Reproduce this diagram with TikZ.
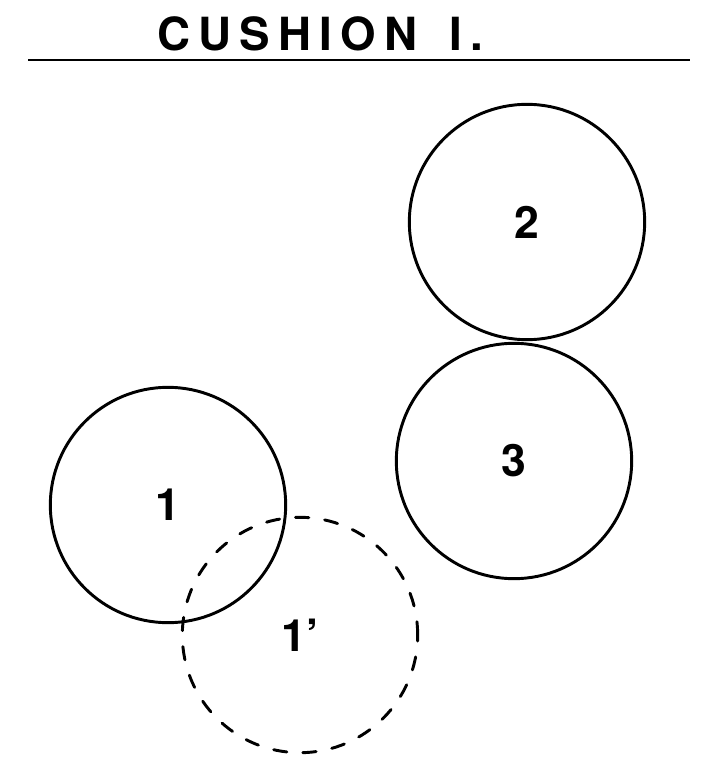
\documentclass[tikz,border=0pt]{standalone}
\usepackage{fontspec}
\setmainfont{TeX Gyre Heros}
\newfontfamily\titlefont[LetterSpace=18]{TeX Gyre Heros}
\usetikzlibrary{positioning}

\begin{document}
\begin{tikzpicture}[x=0.03cm, y=-0.03cm,
    ball/.style={circle, draw, line width=2.5pt, minimum size=7.06cm, inner sep=0pt,
                 font=\fontsize{38}{38}\selectfont\bfseries},
    ghost/.style={ball, dash pattern=on 0.4cm off 0.48cm, line cap=round}]
  \useasboundingbox (0,0) rectangle (707,763);

  % heading and rule
  \coordinate (ruleL) at (28,60);
  \coordinate (ruleR) at (690,60);
  \draw[line width=2.2pt] (ruleL) -- (ruleR);
  \node (title) at (320,34) {\titlefont\fontsize{39}{39}\selectfont\bfseries CUSHION\hspace{0.7em}I.};

  % balls
  \node[ball] (b2) at (527,222) {2};
  \node[ball] (b3) at (514,461) {3};
  \node[ball] (b1) at (168,505) {1};
  \node[ghost] (b1p) at (300,635) {1'};
\end{tikzpicture}
\end{document}
